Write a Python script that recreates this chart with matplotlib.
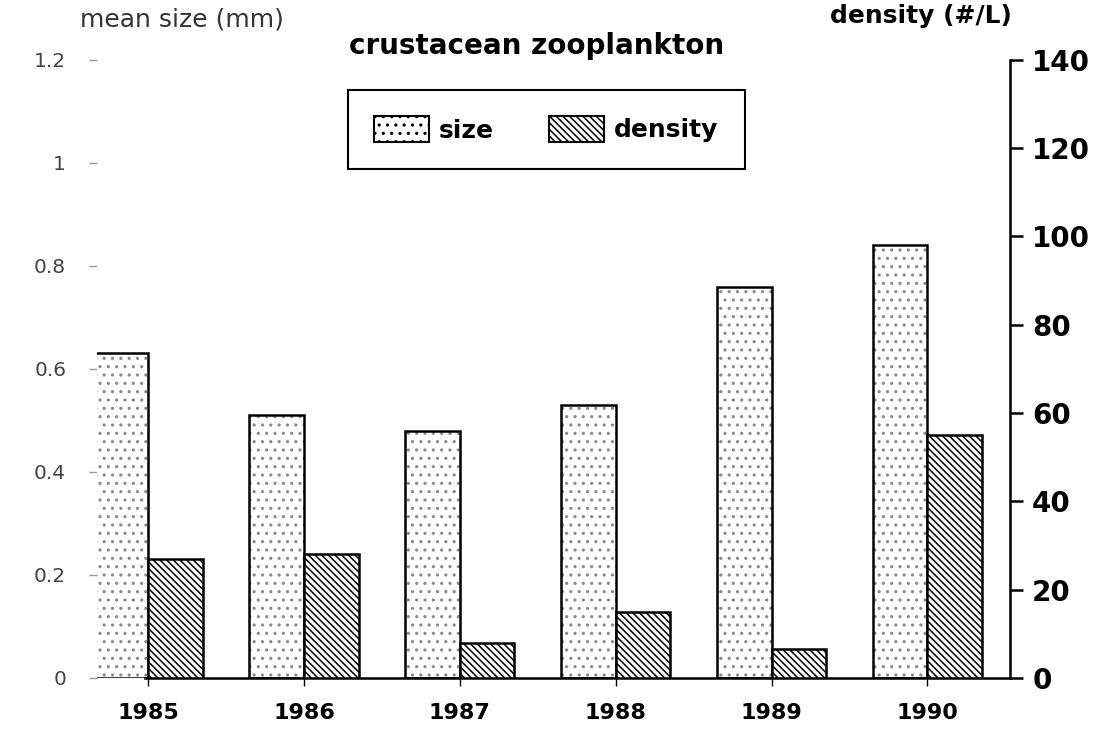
import matplotlib
matplotlib.use("Agg")
import matplotlib.pyplot as plt
from matplotlib.patches import Patch
import numpy as np

years = [1985, 1986, 1987, 1988, 1989, 1990]
size_mm = [0.63, 0.51, 0.48, 0.53, 0.76, 0.84]
density = [27, 28, 8, 15, 6.5, 55]
left_ticks = [0, 0.2, 0.4, 0.6, 0.8, 1.0, 1.2]
left_labels = ["0", "0.2", "0.4", "0.6", "0.8", "1", "1.2"]
right_ticks = [0, 20, 40, 60, 80, 100, 120, 140]

plt.rcParams['font.family'] = ['DejaVu Sans']
plt.rcParams['hatch.linewidth'] = 1.1

fig = plt.figure(figsize=(10.99, 7.40), dpi=100)
ax = fig.add_axes([0.088, 0.084, 0.831, 0.835])
ax2 = ax.twinx()

x = np.array(years, dtype=float)
w = 0.35

# size bars: light grey stipple with black outline
ax.bar(x, size_mm, width=-w, align='edge', facecolor='white', edgecolor='#8a8a8a',
       linewidth=0, hatch='..', zorder=2)
ax.bar(x, size_mm, width=-w, align='edge', fill=False, edgecolor='black',
       linewidth=1.8, zorder=3)
# density bars: dense diagonal hatching
ax2.bar(x, density, width=w, align='edge', facecolor='white', edgecolor='black',
        linewidth=1.8, hatch='\\\\\\\\\\', zorder=2)

ax.set_xlim(1984.67, 1990.53)
ax.set_ylim(0, 1.2)
ax2.set_ylim(0, 140)

for s in ['top', 'left']:
    ax.spines[s].set_visible(False)
    ax2.spines[s].set_visible(False)
ax.spines['right'].set_visible(False)
ax2.spines['bottom'].set_visible(False)
ax2.spines['right'].set_linewidth(1.8)
ax.spines['bottom'].set_linewidth(1.8)
ax.spines['bottom'].set_bounds(1984.98, 1990.53)

ax.set_xticks(years)
ax.set_xticklabels([str(y) for y in years], fontsize=16, fontweight='bold')
ax.tick_params(axis='x', length=6, width=1, pad=12)

ax.set_yticks(left_ticks)
ax.set_yticklabels(left_labels, fontsize=14.5, color='#444444')
ax.tick_params(axis='y', length=6, width=1, color='#999999', pad=16)

ax2.set_yticks(right_ticks)
ax2.set_yticklabels([str(t) for t in right_ticks], fontsize=20, fontweight='bold')
ax2.tick_params(axis='y', length=9, width=1.8, pad=7)

fig.text(0.073, 0.974, "mean size (mm)", fontsize=18, color='#333333', ha='left', va='center')
fig.text(0.755, 0.978, "density (#/L)", fontsize=18, fontweight='bold', ha='left', va='center')
fig.text(0.318, 0.938, "crustacean zooplankton", fontsize=20, fontweight='bold', ha='left', va='center')

handles = [Patch(facecolor='white', edgecolor='black', hatch='..', linewidth=1.5, label='size'),
           Patch(facecolor='white', edgecolor='black', hatch='\\\\\\\\\\', linewidth=1.5, label='density')]
leg = ax.legend(handles=handles, loc='upper left', bbox_to_anchor=(348/1099, 1 - 90/740),
                bbox_transform=fig.transFigure, borderaxespad=0, ncol=2,
                fancybox=False, edgecolor='black', framealpha=1, borderpad=1.05,
                handlelength=2.2, handleheight=1.2, columnspacing=2.2, handletextpad=0.4,
                prop={'size': 18, 'weight': 'bold'})
leg.get_frame().set_linewidth(1.5)

fig.savefig("out.png", dpi=100)
